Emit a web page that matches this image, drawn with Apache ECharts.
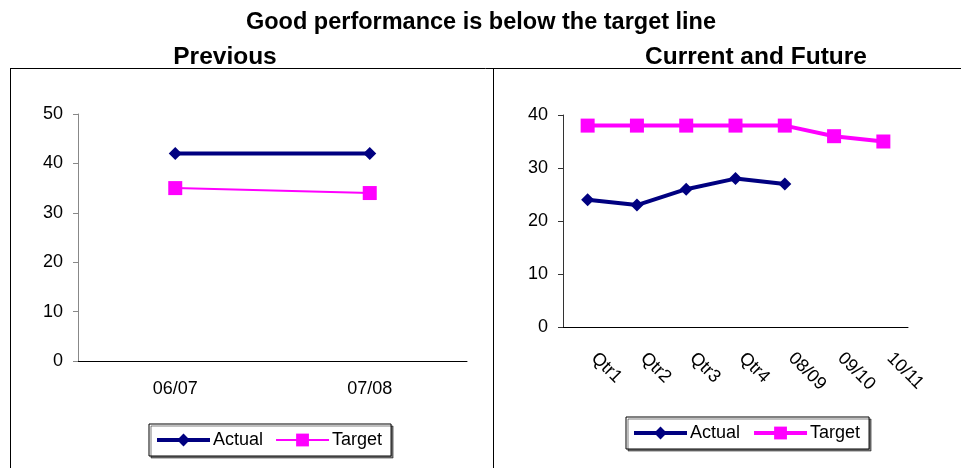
<!DOCTYPE html>
<html><head><meta charset="utf-8">
<script src="https://cdn.jsdelivr.net/npm/echarts@6/dist/echarts.min.js"></script>
<style>html,body{margin:0;padding:0;background:#fff}#c{width:961px;height:468px}</style>
</head><body><div id="c"></div>
<script>
const prevCategories = ['06/07', '07/08'];
const prevActual = [42, 42];
const prevTarget = [35, 34];
const curCategories = ['Qtr1', 'Qtr2', 'Qtr3', 'Qtr4', '08/09', '09/10', '10/11'];
const curActual = [24, 23, 26, 28, 27];
const curTarget = [38, 38, 38, 38, 38, 36, 35];
const prevYTicks = {min: 0, max: 50, interval: 10};
const curYTicks = {min: 0, max: 40, interval: 10};

const NAVY = '#000080', MAG = '#FF00FF';
const FONT = 'Liberation Sans, Arial, sans-serif';
const chart = echarts.init(document.getElementById('c'), null, {renderer: 'canvas'});

function yAxis(idx, t, lineColor) {
  return {
    type: 'value', gridIndex: idx, min: t.min, max: t.max, interval: t.interval,
    axisLine: {show: true, lineStyle: {color: lineColor, width: 1}},
    axisTick: {show: true, length: 5, lineStyle: {color: lineColor}},
    splitLine: {show: false},
    axisLabel: {color: '#000', fontSize: 18, fontFamily: FONT, margin: 15}
  };
}
function legendCfg(left, top, targetWidth) {
  return {
    left: left, top: top, orient: 'horizontal',
    itemWidth: 53, itemHeight: 16, itemGap: 12,
    padding: [7, 9, 7, 6],
    backgroundColor: '#fff', borderColor: '#000', borderWidth: 1,
    shadowColor: 'rgba(0,0,0,0.5)', shadowOffsetX: 2, shadowOffsetY: 2, shadowBlur: 0,
    textStyle: {color: '#000', fontSize: 18, fontFamily: FONT, padding: [0, 0, 0, -2]},
    selectedMode: false,
    data: [
      {name: 'Actual', itemStyle: {color: NAVY}, lineStyle: {color: NAVY, width: 4}},
      {name: 'Target', itemStyle: {color: MAG}, lineStyle: {color: MAG, width: targetWidth}}
    ]
  };
}

chart.setOption({
  animation: false,
  backgroundColor: '#fff',
  title: [
    {text: 'Good performance is below the target line', left: 476, top: 6, textAlign: 'center',
     textStyle: {fontSize: 23.5, fontWeight: 'bold', fontFamily: FONT, color: '#000'}},
    {text: 'Previous', left: 220, top: 40, textAlign: 'center',
     textStyle: {fontSize: 24.5, fontWeight: 'bold', fontFamily: FONT, color: '#000'}},
    {text: 'Current and Future', left: 751, top: 40, textAlign: 'center',
     textStyle: {fontSize: 24.5, fontWeight: 'bold', fontFamily: FONT, color: '#000'}}
  ],
  graphic: [
    {type: 'line', shape: {x1: 10, y1: 68.5, x2: 961, y2: 68.5}, style: {stroke: '#000', lineWidth: 1}},
    {type: 'line', shape: {x1: 10.5, y1: 68, x2: 10.5, y2: 468}, style: {stroke: '#000', lineWidth: 1}},
    {type: 'line', shape: {x1: 493.5, y1: 68, x2: 493.5, y2: 468}, style: {stroke: '#000', lineWidth: 1}}
  ],
  legend: [legendCfg(149, 424, 2), legendCfg(626, 417, 4)],
  grid: [
    {left: 78, right: 494, top: 114, bottom: 107, containLabel: false},
    {left: 563, right: 53, top: 115, bottom: 141, containLabel: false}
  ],
  xAxis: [
    {type: 'category', gridIndex: 0, data: prevCategories, boundaryGap: true,
     axisLine: {lineStyle: {color: '#000'}}, axisTick: {length: 5, lineStyle: {color: '#000'}},
     axisLabel: {color: '#000', fontSize: 18, fontFamily: FONT, margin: 19}},
    {type: 'category', gridIndex: 1, data: curCategories, boundaryGap: true,
     axisLine: {lineStyle: {color: '#000'}}, axisTick: {length: 5, lineStyle: {color: '#000'}},
     axisLabel: {color: '#000', fontSize: 18, fontFamily: FONT, margin: 22, rotate: -45, interval: 0,
                 padding: [0, 0, 0, 9]}}
  ],
  yAxis: [yAxis(0, prevYTicks, '#888'), yAxis(1, curYTicks, '#333')],
  series: [
    {name: 'Actual', type: 'line', xAxisIndex: 0, yAxisIndex: 0, data: prevActual,
     symbol: 'diamond', symbolSize: 13, lineStyle: {color: NAVY, width: 4}, itemStyle: {color: NAVY}},
    {name: 'Target', type: 'line', xAxisIndex: 0, yAxisIndex: 0, data: prevTarget,
     symbol: 'rect', symbolSize: 14, lineStyle: {color: MAG, width: 2}, itemStyle: {color: MAG}},
    {name: 'Actual', type: 'line', xAxisIndex: 1, yAxisIndex: 1, data: curActual,
     symbol: 'diamond', symbolSize: 13, lineStyle: {color: NAVY, width: 4}, itemStyle: {color: NAVY}},
    {name: 'Target', type: 'line', xAxisIndex: 1, yAxisIndex: 1, data: curTarget,
     symbol: 'rect', symbolSize: 14, lineStyle: {color: MAG, width: 4}, itemStyle: {color: MAG}}
  ]
});
</script></body></html>
